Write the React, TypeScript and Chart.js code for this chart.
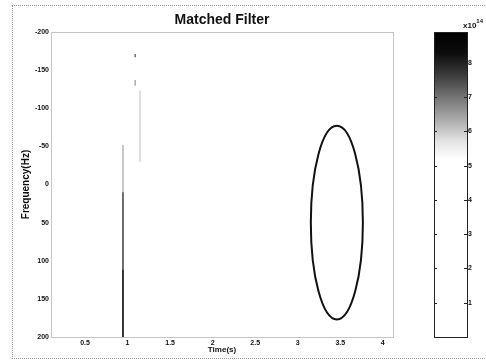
import { useEffect, useRef } from "react";
import { Chart, registerables } from "chart.js";

Chart.register(...registerables);

const chartTitle = "Matched Filter";
const xTitle = "Time(s)";
const yTitle = "Frequency(Hz)";
const timeTicks = [0.5, 1, 1.5, 2, 2.5, 3, 3.5, 4];
const freqTicks = [-200, -150, -100, -50, 0, 50, 100, 150, 200];
const timeRange = [0.1, 4.12];
const freqRange = [-200, 200];

// ridge segments of the matched-filter output: time, start freq, end freq, magnitude (x1e-14)
const ridgeTimes = [0.946, 0.946, 0.946, 1.146, 1.09, 1.09];
const ridgeFreqStart = [-52, 10, 111, -123, -171, -137];
const ridgeFreqEnd = [10, 111, 200, -30, -167, -130];
const ridgeMagnitude = [6.1, 7.3, 8.6, 5.8, 7.0, 6.3];

// highlighted region
const ellipseCenter = [3.46, 50];
const ellipseRadius = [0.306, 127];

// colorbar
const cbTicks = [1, 2, 3, 4, 5, 6, 7, 8];
const cbRange = [0, 8.9];
const cbExponent = "14";
const cmapMagnitude = [0, 5.2, 5.7, 6.3, 7.0, 7.7, 8.3, 8.9];
const cmapGray = [255, 255, 228, 175, 115, 55, 12, 0];

const FONT = "'Liberation Sans', Arial, sans-serif";

function grayAt(m: number): string {
  let g = cmapGray[0];
  if (m >= cmapMagnitude[cmapMagnitude.length - 1]) g = cmapGray[cmapGray.length - 1];
  else {
    for (let i = 0; i < cmapMagnitude.length - 1; i++) {
      const a = cmapMagnitude[i];
      const b = cmapMagnitude[i + 1];
      if (m >= a && m <= b) {
        const f = (m - a) / (b - a);
        g = cmapGray[i] + f * (cmapGray[i + 1] - cmapGray[i]);
        break;
      }
    }
  }
  const v = Math.round(g);
  return `rgb(${v},${v},${v})`;
}

const mainDecor = {
  id: "mainDecor",
  afterDatasetsDraw(chart: any) {
    const { ctx, chartArea, scales } = chart;
    const x = scales.x;
    const y = scales.y;
    // ellipse
    const cx = x.getPixelForValue(ellipseCenter[0]);
    const cy = y.getPixelForValue(ellipseCenter[1]);
    const rx = Math.abs(x.getPixelForValue(ellipseCenter[0] + ellipseRadius[0]) - cx);
    const ry = Math.abs(y.getPixelForValue(ellipseCenter[1] + ellipseRadius[1]) - cy);
    ctx.save();
    ctx.beginPath();
    ctx.ellipse(cx, cy, rx, ry, 0, 0, Math.PI * 2);
    ctx.lineWidth = 2;
    ctx.strokeStyle = "#111";
    ctx.stroke();
    ctx.restore();
    // dotted box
    ctx.save();
    ctx.setLineDash([1, 1]);
    ctx.strokeStyle = "#8a8a8a";
    ctx.lineWidth = 1;
    ctx.strokeRect(
      Math.round(chartArea.left) + 0.5,
      Math.round(chartArea.top) + 0.5,
      Math.round(chartArea.right - chartArea.left),
      Math.round(chartArea.bottom - chartArea.top)
    );
    ctx.restore();
    // title
    ctx.save();
    ctx.font = `bold 14px ${FONT}`;
    ctx.fillStyle = "#111";
    ctx.textAlign = "center";
    ctx.textBaseline = "alphabetic";
    ctx.fillText(chartTitle, (chartArea.left + chartArea.right) / 2, 24);
    ctx.restore();
  },
};

const cbDecor = {
  id: "cbDecor",
  beforeDatasetsDraw(chart: any) {
    const { ctx, chartArea, scales } = chart;
    const y = scales.y;
    const top = chartArea.top;
    const bottom = chartArea.bottom;
    const grad = ctx.createLinearGradient(0, bottom, 0, top);
    cmapMagnitude.forEach((m) => {
      const p = (bottom - y.getPixelForValue(m)) / (bottom - top);
      grad.addColorStop(Math.min(1, Math.max(0, p)), grayAt(m));
    });
    ctx.save();
    ctx.fillStyle = grad;
    ctx.fillRect(chartArea.left, top, chartArea.right - chartArea.left, bottom - top);
    ctx.strokeStyle = "#222";
    ctx.lineWidth = 1;
    ctx.strokeRect(
      Math.round(chartArea.left) + 0.5,
      Math.round(top) + 0.5,
      Math.round(chartArea.right - chartArea.left),
      Math.round(bottom - top)
    );
    // inside tick marks
    cbTicks.forEach((t) => {
      const py = Math.round(y.getPixelForValue(t)) + 0.5;
      ctx.beginPath();
      ctx.moveTo(chartArea.left, py);
      ctx.lineTo(chartArea.left + 3, py);
      ctx.moveTo(chartArea.right, py);
      ctx.lineTo(chartArea.right - 3, py);
      ctx.stroke();
    });
    // exponent label
    ctx.fillStyle = "#111";
    ctx.textBaseline = "alphabetic";
    ctx.textAlign = "left";
    ctx.font = `bold 8px ${FONT}`;
    ctx.fillText("x10", chartArea.right - 4, top - 4);
    const w = ctx.measureText("x10").width;
    ctx.font = `bold 6px ${FONT}`;
    ctx.fillText(cbExponent, chartArea.right - 4 + w, top - 9);
    ctx.restore();
  },
};

export default function App() {
  const mainRef = useRef<HTMLCanvasElement | null>(null);
  const cbRef = useRef<HTMLCanvasElement | null>(null);

  useEffect(() => {
    if (!mainRef.current || !cbRef.current) return;
    const datasets = ridgeTimes.map((t, i) => ({
      data: [
        { x: t, y: ridgeFreqStart[i] },
        { x: t, y: ridgeFreqEnd[i] },
      ],
      showLine: true,
      borderColor: grayAt(ridgeMagnitude[i]),
      borderWidth: ridgeMagnitude[i] > 8 ? 1.6 : 1,
      pointRadius: 0,
    }));
    const tickFont = { family: FONT, size: 7, weight: "bold" as const };
    const main = new Chart(mainRef.current, {
      type: "scatter",
      data: { datasets },
      options: {
        animation: false,
        responsive: false,
        devicePixelRatio: 1,
        layout: { padding: { left: 14, right: 27, top: 32, bottom: 0 } },
        plugins: { legend: { display: false }, tooltip: { enabled: false }, title: { display: false } },
        scales: {
          x: {
            type: "linear",
            min: timeRange[0],
            max: timeRange[1],
            grid: { display: false, drawTicks: false },
            border: { display: false },
            afterBuildTicks: (s: any) => {
              s.ticks = timeTicks.map((v) => ({ value: v }));
            },
            afterFit: (s: any) => {
              s.height = 23;
            },
            ticks: { font: tickFont, color: "#111", padding: 2, maxRotation: 0, autoSkip: false, callback: (v: any) => String(v) },
            title: { display: true, text: xTitle, color: "#111", font: { family: FONT, size: 8, weight: "bold" }, padding: { top: 0, bottom: 5 } },
          },
          y: {
            type: "linear",
            reverse: true,
            min: freqRange[0],
            max: freqRange[1],
            grid: { display: false, drawTicks: false },
            border: { display: false },
            afterBuildTicks: (s: any) => {
              s.ticks = freqTicks.map((v) => ({ value: v }));
            },
            afterFit: (s: any) => {
              s.width = 37;
            },
            ticks: { font: tickFont, color: "#111", padding: 2, autoSkip: false, callback: (v: any) => String(v) },
            title: { display: true, text: yTitle, color: "#111", font: { family: FONT, size: 10, weight: "bold" }, padding: { top: 6, bottom: 0 } },
          },
        },
      },
      plugins: [mainDecor],
    });
    const cb = new Chart(cbRef.current, {
      type: "scatter",
      data: { datasets: [] },
      options: {
        animation: false,
        responsive: false,
        devicePixelRatio: 1,
        layout: { padding: { left: 14, right: 0, top: 32, bottom: 23 } },
        plugins: { legend: { display: false }, tooltip: { enabled: false } },
        scales: {
          x: { type: "linear", display: false, min: 0, max: 1 },
          y: {
            type: "linear",
            position: "right",
            min: cbRange[0],
            max: cbRange[1],
            grid: { display: false, drawTicks: false },
            border: { display: false },
            afterBuildTicks: (s: any) => {
              s.ticks = cbTicks.map((v) => ({ value: v }));
            },
            afterFit: (s: any) => {
              s.width = 19;
            },
            ticks: { font: { family: FONT, size: 7, weight: "bold" }, color: "#111", padding: 1, autoSkip: false, callback: (v: any) => String(v) },
          },
        },
      },
      plugins: [cbDecor],
    });
    return () => {
      main.destroy();
      cb.destroy();
    };
  }, []);

  return (
    <div style={{ position: "absolute", left: 0, top: 0, width: 486, height: 360, background: "#fff", overflow: "hidden" }}>
      <div
        style={{
          position: "absolute",
          left: 12,
          top: 5,
          width: 480,
          height: 352,
          borderTop: "1px dotted #999",
          borderLeft: "1px dotted #999",
          borderBottom: "1px dotted #999",
        }}
      />
      <canvas ref={mainRef} width={420} height={360} style={{ position: "absolute", left: 0, top: 0, width: 420, height: 360 }} />
      <canvas ref={cbRef} width={66} height={360} style={{ position: "absolute", left: 420, top: 0, width: 66, height: 360 }} />
    </div>
  );
}
